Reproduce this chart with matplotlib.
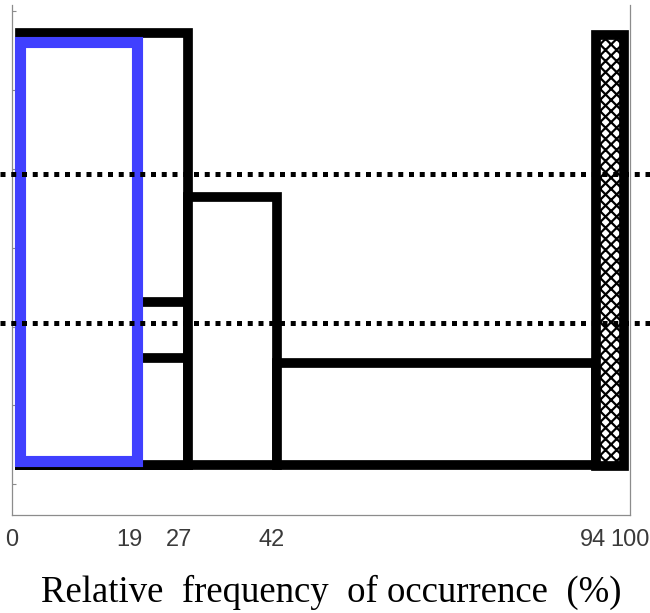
import matplotlib
matplotlib.use("Agg")
import matplotlib.pyplot as plt
from matplotlib.patches import Rectangle

# ---- data ----
tick_values = [0, 19, 27, 42, 94, 100]
tick_labels = ["0", "19", "27", "42", "94", "100"]

# black outlined boxes: left, right, top, bottom
box_left   = [1.3, 1.3, 1.3, 28.4, 42.8]
box_right  = [28.4, 28.4, 28.4, 42.8, 94.5]
box_top    = [5.72, 2.31, 1.60, 3.64, 1.54]
box_bottom = [0.25, 0.25, 0.25, 0.25, 0.25]

# hatched box
hatch_left, hatch_right, hatch_top, hatch_bottom = 94.5, 99.0, 5.70, 0.23

# blue box
blue_left, blue_right, blue_top, blue_bottom = 1.3, 20.2, 5.61, 0.30

# dotted reference levels
dotted_levels = [3.93, 2.04]
dotted_x = [-2.0, 104.0]

y_ticks = [0, 1, 2, 3, 4, 5, 6]

# ---- figure ----
fig = plt.figure(figsize=(6.5, 6.13), dpi=100)
ax = fig.add_axes([12 / 650, (613 - 515) / 613, 618 / 650, 510 / 613])
ax.set_xlim(0, 100)
ax.set_ylim(-0.39, 6.08)

black_lw = 7.0
for l, r, t, b in zip(box_left, box_right, box_top, box_bottom):
    ax.add_patch(Rectangle((l, b), r - l, t - b, facecolor="white",
                           edgecolor="black", linewidth=black_lw,
                           joinstyle="miter", zorder=2))

plt.rcParams["hatch.linewidth"] = 1.6
ax.add_patch(Rectangle((hatch_left, hatch_bottom), hatch_right - hatch_left,
                       hatch_top - hatch_bottom, facecolor="white",
                       edgecolor="black", hatch="xxx", linewidth=black_lw,
                       joinstyle="miter", zorder=2))

ax.add_patch(Rectangle((blue_left, blue_bottom), blue_right - blue_left,
                       blue_top - blue_bottom, facecolor="white",
                       edgecolor="#4040FF", linewidth=8.0,
                       joinstyle="miter", zorder=3))

for lev in dotted_levels:
    ax.plot(dotted_x, [lev, lev], color="black", linewidth=3.6,
            linestyle=(0, (1, 1.15)), dash_capstyle="butt",
            clip_on=False, zorder=5)

# axes styling
for side in ["left", "right", "bottom"]:
    ax.spines[side].set_color("#8c8c8c")
    ax.spines[side].set_linewidth(0.9)
ax.spines["top"].set_visible(False)

ax.set_yticks(y_ticks)
ax.tick_params(axis="y", direction="in", length=3, color="#8c8c8c",
               labelleft=False)
ax.set_xticks(tick_values)
ax.set_xticklabels(tick_labels, fontfamily="Liberation Sans", fontsize=17,
                   color="#3a3a3a")
ax.tick_params(axis="x", length=0, pad=10)

fig.text(331 / 650, (613 - 592) / 613,
         "Relative  frequency  of occurrence  (%)",
         ha="center", va="center", fontfamily="Liberation Serif",
         fontsize=26.5, color="black")

fig.savefig("out.png", dpi=100)
